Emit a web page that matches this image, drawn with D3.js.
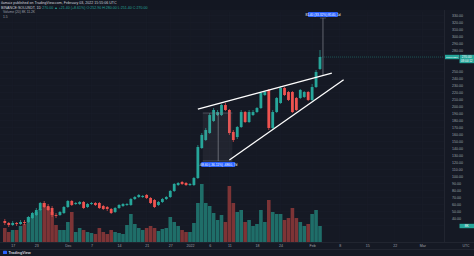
<!DOCTYPE html>
<html><head><meta charset="utf-8">
<script src="https://cdn.jsdelivr.net/npm/d3@7"></script>
<style>html,body{margin:0;padding:0;background:#131722;}svg{display:block;font-family:"Liberation Sans",Arial,sans-serif;}</style>
</head><body>
<script>
// ---- data ----
const startDate = "2021-11-15";
const opens  = [35.7,32.9,30.0,32.9,31.4,34.3,34.3,40.0,44.3,51.4,61.4,57.1,54.3,44.3,44.3,47.1,55.7,64.3,60.0,60.0,62.9,55.7,60.0,61.4,61.4,57.1,55.7,52.9,48.6,54.3,57.1,58.6,58.6,67.1,70.0,70.0,72.9,68.6,65.7,58.6,62.9,67.1,70.0,78.6,87.1,91.4,90.0,87.1,87.1,97.1,140.0,151.4,161.4,178.6,187.1,187.1,201.4,194.3,162.9,155.7,170.0,191.4,177.1,187.1,191.4,197.1,215.7,222.9,168.6,191.4,204.3,225.7,220.0,220.0,211.4,211.4,212.9,220.0,208.6,227.1,252.9];
const highs  = [38.6,34.3,35.7,34.3,37.1,37.1,42.9,48.6,54.3,62.9,64.3,60.0,57.1,47.1,50.0,57.1,65.7,65.7,62.9,64.3,64.3,61.4,62.9,62.9,62.9,58.6,57.1,54.3,55.7,60.0,61.4,61.4,68.6,71.4,74.3,72.9,74.3,70.0,67.1,64.3,68.6,71.4,80.0,90.0,91.4,92.9,91.4,90.0,98.6,144.3,161.4,168.6,190.0,197.1,194.3,202.9,204.3,195.7,165.7,171.4,194.3,192.9,194.3,194.3,198.6,220.0,221.4,224.3,194.3,212.9,228.6,227.1,221.4,221.4,212.9,224.3,221.4,221.4,231.4,251.4,280.0];
const lows   = [30.0,27.1,28.6,28.6,30.0,30.0,32.9,38.6,42.9,50.0,54.3,50.0,41.4,40.0,42.9,45.7,54.3,57.1,58.6,58.6,52.9,54.3,58.6,57.1,52.9,51.4,50.0,45.7,47.1,52.9,55.7,57.1,57.1,65.7,68.6,68.6,67.1,60.0,54.3,57.1,61.4,65.7,68.6,77.1,85.7,87.1,85.7,85.7,85.7,95.7,138.6,150.0,160.0,177.1,185.7,185.7,192.9,158.6,148.6,152.9,168.6,175.7,175.7,185.7,190.0,195.7,214.3,165.7,167.1,190.0,202.9,214.3,207.1,190.0,192.9,210.0,211.4,207.1,207.1,225.7,251.4];
const closes = [32.9,30.0,32.9,31.4,34.3,32.9,41.4,47.1,51.4,61.4,55.7,51.4,44.3,42.9,48.6,55.7,64.3,58.6,61.4,62.9,54.3,60.0,61.4,58.6,54.3,52.9,52.9,47.1,54.3,58.6,60.0,60.0,67.1,70.0,72.9,71.4,68.6,61.4,55.7,62.9,67.1,70.0,78.6,88.6,90.0,88.6,87.1,88.6,97.1,141.4,158.6,165.7,187.1,194.3,191.4,201.4,194.3,161.4,151.4,170.0,191.4,177.1,191.4,191.4,197.1,218.6,220.0,168.6,191.4,211.4,225.7,215.7,208.6,191.4,194.3,222.9,220.0,208.6,227.1,248.6,270.0];
const volumes = [7,5,6,6,8,9,12.5,13.5,15,16.5,19.5,17.5,15,8.5,6,6,10,15,5,7,6,5,4.5,4,7,5,4,6,5,4.5,4,8.5,14,9,7,6,7,8,7,5.5,6.5,7,12.5,10,8,6,5,5,9.5,19.5,29,19.5,18,14.5,11,13.5,10,28,19.5,15,16,10,11,8,9,16,10,21,15,14,14,11,12,17,12,10,8,9,14,16,8];
const priceTicks = [30,40,50,60,70,80,90,100,110,120,130,140,150,160,170,180,190,200,210,220,230,240,250,260,270,280,290,300,310,320,330];
const timeTickDates  = ["2021-11-17","2021-11-23","2021-12-01","2021-12-07","2021-12-14","2021-12-21","2021-12-27","2022-01-01","2022-01-06","2022-01-11","2022-01-18","2022-01-24","2022-02-01","2022-02-08","2022-02-15","2022-02-22","2022-03-01"];
const timeTickLabels = ["17","23","Dec","7","14","21","27","2022","6","11","18","24","Feb","8","15","22","Mar"];
// drawings: wedge trend lines [date, price]
const upperLine = [["2022-01-03",195.7],["2022-02-06",247.1]];
const lowerLine = [["2022-01-11",122.9],["2022-02-09",237.4]];
const rangeTop = {date:"2022-02-03T18:00", from:244.3, to:325.7, text:"81.40 (33.32%) 8140, 1d"};
const rangeLow = {from:"2022-01-04T06:00", to:"2022-01-11T18:00", mid:"2022-01-08T04:00", top:190.0, bottom:121.4, text:"-68.60 (-36.11%) -6860, 7d"};
const headerLines = ["ilamaiz published on TradingView.com, February 03, 2022 15:55:06 UTC",
  "BINANCE:SOLUSDT, 1D  270.00 ▲ +21.40 (+8.61%)  O:252.90 H:280.00 L:251.40 C:270.00",
  "Volume (20)  8K  11.2K", "1.5"];

// ---- chart ----
const W=474,H=256, plotR=444, volBase=242;
const svg=d3.select("body").append("svg").attr("width",W).attr("height",H);
svg.append("rect").attr("width",W).attr("height",H).attr("fill","#151924");

const parse=d3.utcParse("%Y-%m-%d"), parseT=d3.utcParse("%Y-%m-%dT%H:%M");
const t0=parse(startDate);
const data=closes.map((c,i)=>({date:d3.utcDay.offset(t0,i),o:opens[i],h:highs[i],l:lows[i],c:c,v:volumes[i]}));

const x=d3.scaleUtc().domain([t0,d3.utcDay.offset(t0,112)]).range([4.8,4.8+112*3.94]);
const y=d3.scaleLinear().domain([20,330]).range([232,15]);
const yv=d3.scaleLinear().domain([0,30]).range([volBase,182]);
const up="#26a69a", dn="#ef5350";

// faint grid
const g=svg.append("g");
g.selectAll("line.h").data(priceTicks).join("line").attr("x1",0).attr("x2",plotR)
  .attr("y1",d=>Math.round(y(d))+0.5).attr("y2",d=>Math.round(y(d))+0.5).attr("stroke","#1b1f2a").attr("stroke-width",0.5);
g.selectAll("line.v").data(timeTickDates).join("line").attr("y1",12).attr("y2",volBase)
  .attr("x1",d=>x(parse(d))).attr("x2",d=>x(parse(d))).attr("stroke","#1b1f2a").attr("stroke-width",0.5);

// volume
svg.append("g").selectAll("rect").data(data).join("rect")
  .attr("x",d=>x(d.date)-1.8).attr("width",3.6)
  .attr("y",d=>yv(d.v)).attr("height",d=>volBase-yv(d.v))
  .attr("fill",d=>d.c>=d.o?"#1f6e69":"#7d3436");

// candles
const cg=svg.append("g");
cg.selectAll("line").data(data).join("line")
  .attr("x1",d=>x(d.date)).attr("x2",d=>x(d.date)).attr("y1",d=>y(d.h)).attr("y2",d=>y(d.l))
  .attr("stroke",d=>d.c>=d.o?up:dn).attr("stroke-width",0.7);
cg.selectAll("rect").data(data).join("rect")
  .attr("x",d=>x(d.date)-1.4).attr("width",2.8)
  .attr("y",d=>y(Math.max(d.o,d.c))).attr("height",d=>Math.max(0.8,Math.abs(y(d.o)-y(d.c))))
  .attr("fill",d=>d.c>=d.o?up:dn);

// low range tool
const rx0=x(parseT(rangeLow.from)), rx1=x(parseT(rangeLow.to)), rxm=x(parseT(rangeLow.mid));
svg.append("rect").attr("x",rx0).attr("y",y(rangeLow.top)).attr("width",rx1-rx0).attr("height",y(rangeLow.bottom)-y(rangeLow.top))
  .attr("fill","rgba(120,123,134,0.12)");
[[rangeLow.top],[rangeLow.bottom]].forEach(p=>svg.append("line").attr("x1",rx0).attr("x2",rx1).attr("y1",y(p[0])).attr("y2",y(p[0])).attr("stroke","#787b86").attr("stroke-width",0.5));
svg.append("line").attr("x1",rxm).attr("x2",rxm).attr("y1",y(rangeLow.top)).attr("y2",y(rangeLow.bottom)).attr("stroke","#9598a1").attr("stroke-width",0.6);
const lbw=34;
svg.append("rect").attr("x",rxm-lbw/2).attr("y",y(rangeLow.bottom)+1).attr("width",lbw).attr("height",5).attr("rx",0.8).attr("fill","#2962ff");
svg.append("text").attr("x",rxm).attr("y",y(rangeLow.bottom)+4.6).attr("text-anchor","middle").attr("font-size",3.2).attr("fill","#fff").text(rangeLow.text);

// top range tool
const tx=x(parseT(rangeTop.date));
svg.append("line").attr("x1",tx).attr("x2",tx).attr("y1",y(rangeTop.to)).attr("y2",y(rangeTop.from)).attr("stroke","#9598a1").attr("stroke-width",0.6);
svg.append("line").attr("x1",tx-3).attr("x2",tx+3).attr("y1",y(rangeTop.to)).attr("y2",y(rangeTop.to)).attr("stroke","#787b86").attr("stroke-width",0.5);
svg.append("rect").attr("x",tx-15).attr("y",y(rangeTop.to)-6).attr("width",30).attr("height",5).attr("rx",0.8).attr("fill","#2962ff");
svg.append("text").attr("x",tx).attr("y",y(rangeTop.to)-2.4).attr("text-anchor","middle").attr("font-size",3.2).attr("fill","#fff").text(rangeTop.text);

// wedge lines
const ln=d3.line().x(d=>x(parse(d[0]))).y(d=>y(d[1]));
[upperLine,lowerLine].forEach(L=>svg.append("path").attr("d",ln(L)).attr("stroke","#ffffff").attr("stroke-width",1.3).attr("fill","none"));

// right price axis
const ly=y(closes[closes.length-1]);
const vy=yv(volumes[volumes.length-1]);
svg.append("rect").attr("x",plotR).attr("y",10).attr("width",W-plotR).attr("height",239).attr("fill","#151924");
svg.append("line").attr("x1",plotR+0.5).attr("x2",plotR+0.5).attr("y1",10).attr("y2",249).attr("stroke","#2a2e39").attr("stroke-width",0.6);
const shownTicks=priceTicks.filter(t=>Math.abs(y(t)-(ly+2))>6.5 && Math.abs(y(t)-vy)>4.5);
const yAxis=d3.axisRight(y).tickValues(shownTicks).tickSize(0).tickPadding(0).tickFormat(d3.format(".2f"));
const ya=svg.append("g").attr("transform",`translate(${plotR+8},0)`).call(yAxis);
ya.select(".domain").remove();
ya.selectAll("text").attr("font-size",3.6).attr("fill","#9da1ab").attr("font-family","Liberation Sans, Arial");

// last price labels
svg.append("rect").attr("x",445).attr("y",ly-2.2).attr("width",14).attr("height",4.4).attr("fill",up);
svg.append("text").attr("x",452).attr("y",ly+1.0).attr("text-anchor","middle").attr("font-size",2.5).attr("fill","#fff").text("SOLUSDT");
svg.append("rect").attr("x",459.5).attr("y",ly-2.2).attr("width",14.5).attr("height",8.4).attr("fill",up);
svg.append("text").attr("x",466.7).attr("y",ly+1.2).attr("text-anchor","middle").attr("font-size",3.2).attr("fill","#fff").text(d3.format(".2f")(closes[closes.length-1]));
svg.append("text").attr("x",466.7).attr("y",ly+5.2).attr("text-anchor","middle").attr("font-size",3).attr("fill","#fff").text("08:04:12");
svg.append("line").attr("x1",x(data[data.length-1].date)).attr("x2",plotR).attr("y1",ly).attr("y2",ly).attr("stroke",up).attr("stroke-width",0.4).attr("stroke-dasharray","1,1");
// volume label
svg.append("rect").attr("x",459.5).attr("y",vy-2.2).attr("width",14.5).attr("height",4.4).attr("fill",up);
svg.append("text").attr("x",466.7).attr("y",vy+1.2).attr("text-anchor","middle").attr("font-size",3.2).attr("fill","#fff").text("8K");

// time axis
svg.append("rect").attr("x",0).attr("y",volBase).attr("width",W).attr("height",H-volBase).attr("fill","#151924");
svg.append("line").attr("x1",0).attr("x2",W).attr("y1",volBase+0.5).attr("y2",volBase+0.5).attr("stroke","#2a2e39").attr("stroke-width",0.6);
const xAxis=d3.axisBottom(x).tickValues(timeTickDates.map(parse)).tickSize(0).tickPadding(0)
  .tickFormat((d,i)=>timeTickLabels[i]);
const xa=svg.append("g").attr("transform",`translate(0,${volBase+2})`).call(xAxis);
xa.select(".domain").remove();
xa.selectAll("text").attr("font-size",3.6).attr("fill","#9da1ab").attr("dy","0.8em");
svg.append("line").attr("x1",0).attr("x2",W).attr("y1",249.5).attr("y2",249.5).attr("stroke","#2a2e39").attr("stroke-width",0.6);
svg.append("text").attr("x",466).attr("y",247).attr("font-size",3.4).attr("fill","#9da1ab").attr("text-anchor","middle").text("UTC");

// footer logo
svg.append("rect").attr("x",3).attr("y",250.8).attr("width",4).attr("height",3.2).attr("rx",0.6).attr("fill","#2962ff");
svg.append("text").attr("x",8.5).attr("y",253.8).attr("font-size",3.8).attr("font-weight","bold").attr("fill","#d1d4dc").text("TradingView");

// header
svg.append("rect").attr("x",0).attr("y",0).attr("width",W).attr("height",10).attr("fill","#131722");
svg.append("text").attr("x",1).attr("y",4).attr("font-size",3.6).attr("fill","#d1d4dc").text(headerLines[0]);
const h2=svg.append("text").attr("x",1).attr("y",8.6).attr("font-size",3.6).attr("fill","#d1d4dc");
h2.append("tspan").text("BINANCE:SOLUSDT, 1D  ");
h2.append("tspan").attr("fill",up).text(headerLines[1].slice(21));
svg.append("text").attr("x",3).attr("y",13.4).attr("font-size",3.3).attr("fill","#9da1ab").text(headerLines[2]);
svg.append("text").attr("x",3).attr("y",17.6).attr("font-size",3.3).attr("fill","#9da1ab").text(headerLines[3]);
</script>
</body></html>
